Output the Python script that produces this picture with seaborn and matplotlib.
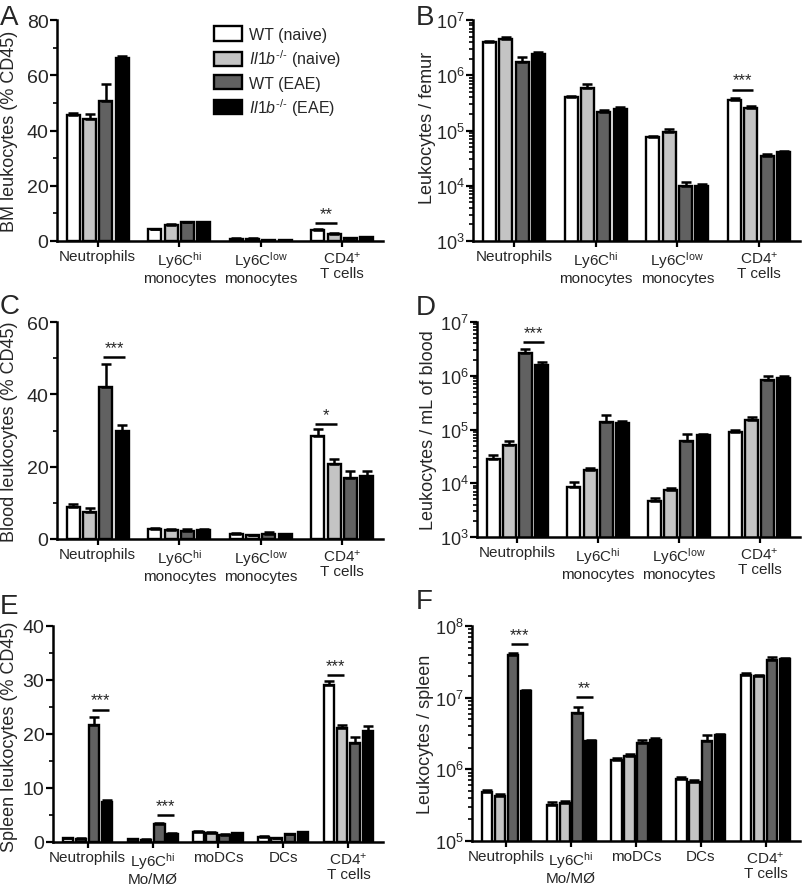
import numpy as np
import pandas as pd
import matplotlib
matplotlib.use("Agg")
import matplotlib.pyplot as plt
import seaborn as sns
from matplotlib.patches import Patch
from matplotlib.ticker import MultipleLocator, LogLocator, NullFormatter, LogFormatterSciNotation

sns.set_style("ticks")
plt.rcParams["font.family"] = ["Liberation Sans", "DejaVu Sans"]
plt.rcParams["mathtext.fontset"] = "custom"
plt.rcParams["mathtext.rm"] = "Liberation Sans"
plt.rcParams["mathtext.it"] = "Liberation Sans:italic"
plt.rcParams["mathtext.bf"] = "Liberation Sans:bold"
plt.rcParams["mathtext.sf"] = "Liberation Sans"

# ---------------- data ----------------
groups = ["WT (naive)", "Il1b-/- (naive)", "WT (EAE)", "Il1b-/- (EAE)"]
legend_labels = ["WT (naive)", r"$\mathit{Il1b}^{\text{-/-}}$ (naive)", "WT (EAE)",
                 r"$\mathit{Il1b}^{\text{-/-}}$ (EAE)"]
colors = ["#ffffff", "#c4c4c4", "#616161", "#000000"]

cats_bm = ["Neutrophils", "Ly6C$^{\\mathrm{hi}}$\nmonocytes", "Ly6C$^{\\mathrm{low}}$\nmonocytes", "CD4$^{+}$\nT cells"]
cats_spleen = ["Neutrophils", "Ly6C$^{\\mathrm{hi}}$\nMo/MØ", "moDCs", "DCs", "CD4$^{+}$\nT cells"]

# Panel A: BM leukocytes (% CD45)
a_wt_naive = [45.5, 4.2, 0.9, 4.0]
a_ko_naive = [44.2, 5.7, 0.9, 2.4]
a_wt_eae = [50.5, 6.7, 0.4, 1.1]
a_ko_eae = [66.1, 6.8, 0.3, 1.3]
a_err_wt_naive = [0.8, 0.3, 0.1, 0.5]
a_err_ko_naive = [1.6, 0.6, 0.1, 0.5]
a_err_wt_eae = [6.2, 0.3, 0.05, 0.1]
a_err_ko_eae = [0.8, 0.1, 0.05, 0.1]

# Panel B: Leukocytes / femur
b_wt_naive = [4.0e6, 4.0e5, 7.6e4, 3.6e5]
b_ko_naive = [4.5e6, 5.8e5, 9.5e4, 2.6e5]
b_wt_eae = [1.75e6, 2.2e5, 1.0e4, 3.4e4]
b_ko_eae = [2.45e6, 2.5e5, 1.0e4, 4.0e4]
b_err_wt_naive = [2.0e5, 3.0e4, 5.0e3, 2.0e4]
b_err_ko_naive = [4.0e5, 1.2e5, 1.2e4, 2.0e4]
b_err_wt_eae = [3.5e5, 1.5e4, 1.8e3, 4.0e3]
b_err_ko_eae = [1.5e5, 1.5e4, 8.0e2, 2.0e3]

# Panel C: Blood leukocytes (% CD45)
c_wt_naive = [8.8, 2.7, 1.5, 28.6]
c_ko_naive = [7.6, 2.5, 1.1, 20.8]
c_wt_eae = [42.0, 2.3, 1.5, 16.8]
c_ko_eae = [29.8, 2.6, 1.4, 17.4]
c_err_wt_naive = [0.9, 0.3, 0.1, 1.7]
c_err_ko_naive = [1.0, 0.2, 0.1, 1.4]
c_err_wt_eae = [6.5, 0.4, 0.3, 1.9]
c_err_ko_eae = [1.8, 0.2, 0.1, 1.5]

# Panel D: Leukocytes / mL of blood
d_wt_naive = [2.8e4, 8.6e3, 4.6e3, 9.0e4]
d_ko_naive = [5.2e4, 1.75e4, 7.6e3, 1.48e5]
d_wt_eae = [2.7e6, 1.4e5, 6.1e4, 8.5e5]
d_ko_eae = [1.6e6, 1.3e5, 7.8e4, 9.0e5]
d_err_wt_naive = [5.0e3, 2.0e3, 8.0e2, 8.0e3]
d_err_ko_naive = [1.0e4, 2.0e3, 7.0e2, 2.2e4]
d_err_wt_eae = [4.0e5, 5.0e4, 2.0e4, 1.2e5]
d_err_ko_eae = [2.0e5, 1.3e4, 6.0e3, 8.0e4]

# Panel E: Spleen leukocytes (% CD45)
e_wt_naive = [0.7, 0.5, 1.9, 1.0, 29.0]
e_ko_naive = [0.6, 0.45, 1.7, 0.7, 21.1]
e_wt_eae = [21.7, 3.3, 1.3, 1.4, 18.3]
e_ko_eae = [7.5, 1.5, 1.6, 1.8, 20.6]
e_err_wt_naive = [0.1, 0.05, 0.15, 0.1, 0.8]
e_err_ko_naive = [0.05, 0.05, 0.1, 0.1, 0.6]
e_err_wt_eae = [1.4, 0.3, 0.1, 0.15, 1.1]
e_err_ko_eae = [0.3, 0.1, 0.1, 0.1, 0.9]

# Panel F: Leukocytes / spleen
f_wt_naive = [4.8e5, 3.2e5, 1.36e6, 7.3e5, 2.1e7]
f_ko_naive = [4.3e5, 3.4e5, 1.55e6, 6.7e5, 2.0e7]
f_wt_eae = [4.0e7, 6.2e6, 2.3e6, 2.5e6, 3.4e7]
f_ko_eae = [1.25e7, 2.45e6, 2.6e6, 3.0e6, 3.5e7]
f_err_wt_naive = [4.0e4, 3.0e4, 1.0e5, 5.0e4, 1.0e6]
f_err_ko_naive = [2.0e4, 2.0e4, 8.0e4, 3.0e4, 1.0e6]
f_err_wt_eae = [2.5e6, 1.3e6, 3.0e5, 5.0e5, 3.0e6]
f_err_ko_eae = [5.0e5, 1.0e5, 1.0e5, 1.5e5, 1.0e6]

# significance: (category index, hue a, hue b, line height, stars)
a_sig = [(3, 0, 1, 6.4, "**")]
b_sig = [(3, 0, 1, 5.5e5, "***")]
c_sig = [(0, 2, 3, 50.3, "***"), (3, 0, 1, 31.7, "*")]
d_sig = [(0, 2, 3, 4.2e6, "***")]
e_sig = [(0, 2, 3, 24.5, "***"), (1, 2, 3, 5.0, "***"), (4, 0, 1, 30.9, "***")]
f_sig = [(0, 2, 3, 5.6e7, "***"), (1, 2, 3, 1.02e7, "**")]

# ---------------- figure ----------------
W, H = 802, 887
fig = plt.figure(figsize=(W / 100, H / 100), dpi=100)


def px_axes(left, right, top, bottom):
    return fig.add_axes([left / W, 1 - bottom / H, (right - left) / W, (bottom - top) / H])


def panel(ax, cats, means, errs, sigs, ylabel, log=False, ylim=None,
          major=None, minor=None, xlim=None, label_x=-0.12, label_y=0.5):
    rows = []
    for g, vals in zip(groups, means):
        for c, v in zip(cats, vals):
            rows.append({"cat": c, "val": v, "group": g})
    df = pd.DataFrame(rows)
    sns.barplot(data=df, x="cat", y="val", hue="group", order=cats, hue_order=groups,
                palette=colors, saturation=1, edgecolor="black", linewidth=1.7,
                width=0.8, gap=0.2, errorbar=None, legend=False, ax=ax)
    bar_conts = list(ax.containers)
    centers = []
    for i, cont in enumerate(bar_conts):
        xs = [p.get_x() + p.get_width() / 2 for p in cont]
        centers.append(xs)
        ax.errorbar(xs, means[i], yerr=[np.zeros(len(xs)), errs[i]], fmt="none",
                    ecolor="black", elinewidth=1.8, capsize=3.6, capthick=1.8, zorder=3)
    if log:
        ax.set_yscale("log")
        ax.yaxis.set_major_locator(LogLocator(base=10, numticks=12))
        ax.yaxis.set_minor_locator(LogLocator(base=10, subs=np.arange(2, 10), numticks=100))
        ax.yaxis.set_minor_formatter(NullFormatter())
        ax.yaxis.set_major_formatter(LogFormatterSciNotation())
        ysize = 13
    else:
        ax.yaxis.set_major_locator(MultipleLocator(major))
        ax.yaxis.set_minor_locator(MultipleLocator(minor))
        ysize = 14
    ax.set_ylim(*ylim)
    ax.set_xlim(*xlim)
    for (ci, ha, hb, y, s) in sigs:
        x0 = centers[ha][ci] - 0.03
        x1 = centers[hb][ci] + 0.03
        ax.plot([x0, x1], [y, y], color="black", lw=1.8, solid_capstyle="butt", zorder=4)
        ax.annotate(s, xy=((x0 + x1) / 2, y), xytext=(0, 1.5), textcoords="offset points",
                    ha="center", va="bottom", fontsize=12)
    ax.set_xlabel("")
    ax.set_ylabel(ylabel, fontsize=13)
    ax.yaxis.set_label_coords(label_x, label_y)
    ax.set_xticks(range(len(cats)))
    ax.set_xticklabels(cats, fontsize=11, linespacing=1.1)
    ax.tick_params(axis="y", which="major", length=5, width=1.6, labelsize=ysize, pad=1.2, color="black")
    ax.tick_params(axis="y", which="minor", length=3, width=1.2, color="black")
    ax.tick_params(axis="x", which="major", length=4, width=1.6, pad=2, color="black")
    ax.tick_params(axis="x", which="minor", length=0)
    sns.despine(ax=ax)
    for sp in ("left", "bottom"):
        ax.spines[sp].set_linewidth(1.8)
        ax.spines[sp].set_color("black")
    ax.set_facecolor("white")


axA = px_axes(57, 383, 21, 242)
axB = px_axes(473, 800, 21, 242)
axC = px_axes(57, 383, 323, 540)
axD = px_axes(477, 800, 323, 538)
axE = px_axes(53, 383, 627, 843)
axF = px_axes(472, 800, 627, 842)

panel(axA, cats_bm, [a_wt_naive, a_ko_naive, a_wt_eae, a_ko_eae],
      [a_err_wt_naive, a_err_ko_naive, a_err_wt_eae, a_err_ko_eae], a_sig,
      "BM leukocytes (% CD45)", ylim=(0, 80), major=20, minor=10, xlim=(-0.5, 3.5),
      label_x=-0.12, label_y=0.5)
panel(axB, cats_bm, [b_wt_naive, b_ko_naive, b_wt_eae, b_ko_eae],
      [b_err_wt_naive, b_err_ko_naive, b_err_wt_eae, b_err_ko_eae], b_sig,
      "Leukocytes / femur", log=True, ylim=(1e3, 1e7), xlim=(-0.5, 3.5),
      label_x=-0.112, label_y=0.515)
panel(axC, cats_bm, [c_wt_naive, c_ko_naive, c_wt_eae, c_ko_eae],
      [c_err_wt_naive, c_err_ko_naive, c_err_wt_eae, c_err_ko_eae], c_sig,
      "Blood leukocytes (% CD45)", ylim=(0, 60), major=20, minor=10, xlim=(-0.5, 3.5),
      label_x=-0.12, label_y=0.5)
panel(axD, cats_bm, [d_wt_naive, d_ko_naive, d_wt_eae, d_ko_eae],
      [d_err_wt_naive, d_err_ko_naive, d_err_wt_eae, d_err_ko_eae], d_sig,
      "Leukocytes / mL of blood", log=True, ylim=(1e3, 1e7), xlim=(-0.5, 3.5),
      label_x=-0.123, label_y=0.5)
panel(axE, cats_spleen, [e_wt_naive, e_ko_naive, e_wt_eae, e_ko_eae],
      [e_err_wt_naive, e_err_ko_naive, e_err_wt_eae, e_err_ko_eae], e_sig,
      "Spleen leukocytes (% CD45)", ylim=(0, 40), major=10, minor=5, xlim=(-0.53, 4.53),
      label_x=-0.106, label_y=0.49)
panel(axF, cats_spleen, [f_wt_naive, f_ko_naive, f_wt_eae, f_ko_eae],
      [f_err_wt_naive, f_err_ko_naive, f_err_wt_eae, f_err_ko_eae], f_sig,
      "Leukocytes / spleen", log=True, ylim=(1e5, 1e8), xlim=(-0.53, 4.53),
      label_x=-0.117, label_y=0.5)

# legend in panel A
handles = [Patch(facecolor=c, edgecolor="black", linewidth=1.7) for c in colors]
axA.legend(handles, legend_labels, loc="upper left", bbox_to_anchor=(0.462, 1.0),
           frameon=False, fontsize=11.5, handlelength=1.75, handleheight=1.0,
           labelspacing=0.35, handletextpad=0.45, borderaxespad=0.0)

# panel letters (baseline positions in pixels)
for letter, x, y in [("A", 0, 25), ("B", 416, 25), ("C", 0, 314),
                     ("D", 416, 315), ("E", 0, 614), ("F", 416, 609)]:
    fig.text(x / W, 1 - y / H, letter, fontsize=20, va="baseline", ha="left")

fig.savefig("out.png", dpi=100, facecolor="white")
